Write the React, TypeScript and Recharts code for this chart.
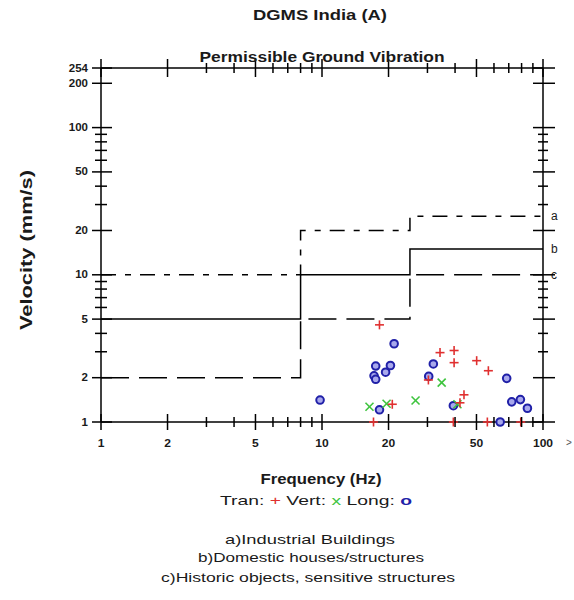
import { ScatterChart, Scatter, XAxis, YAxis } from 'recharts';

// axis ticks (log scales)
const FREQ_TICKS = [1, 2, 3, 4, 5, 6, 7, 8, 9, 10, 20, 30, 40, 50, 60, 70, 80, 90, 100];
const FREQ_LABELS = [1, 2, 5, 10, 20, 50, 100];
const VEL_TICKS = [1, 2, 3, 4, 5, 6, 7, 8, 9, 10, 20, 30, 40, 50, 60, 70, 80, 90, 100, 200, 254];
const VEL_LABELS = [1, 2, 5, 10, 20, 50, 100, 200, 254];

// DGMS limit curves: [frequency Hz, velocity mm/s]
const LIMIT_A = [[1, 10], [8, 10], [8, 20], [25, 20], [25, 25], [100, 25]];
const LIMIT_B = [[1, 5], [8, 5], [8, 10], [25, 10], [25, 15], [100, 15]];
const LIMIT_C = [[1, 2], [8, 2], [8, 5], [25, 5], [25, 10], [100, 10]];
const LIMIT_NAMES = ['a', 'b', 'c'];

// measured peaks
const TRAN = [
  [18.2, 4.57], [34.2, 2.96], [39.6, 3.06], [39.6, 2.53], [50.1, 2.61], [56.6, 2.23],
  [30.3, 1.93], [43.9, 1.53], [42.1, 1.35], [20.8, 1.32], [17.1, 1.0], [39.3, 1.0],
  [56, 1.0], [79.3, 1.0],
];
const VERT = [[16.4, 1.27], [19.6, 1.33], [26.5, 1.4], [34.8, 1.85], [41, 1.32]];
const LONG = [
  [9.8, 1.41], [17.5, 2.4], [17.2, 2.06], [17.5, 1.95], [19.4, 2.18], [20.4, 2.42],
  [21.2, 3.4], [18.2, 1.21], [31.9, 2.48], [30.4, 2.04], [39.3, 1.29], [64, 1.0],
  [68.5, 1.98], [72.2, 1.37], [79, 1.42], [85, 1.24],
];

const FONT = '"Liberation Sans", Arial, sans-serif';
const INK = '#1a1a1a';

const pts = (arr: number[][]) => arr.map(([x, y]) => ({ x, y }));

function FreqTick(props: any) {
  const { x, y, payload, side } = props;
  const v = payload.value;
  const major = FREQ_LABELS.includes(v);
  const len = side === 'top' ? (major ? 9 : 5) : (major ? 8 : 5);
  return (
    <g>
      <line x1={x} x2={x} y1={y - len} y2={y + len} stroke="#000" strokeWidth={1.5} />
      {side === 'bottom' && major && (
        <text
          transform={`translate(${x},447) scale(1.15,1)`}
          textAnchor="middle"
          fontSize={10.5}
          fontWeight="bold"
          fontFamily={FONT}
          fill={INK}
        >
          {v}
        </text>
      )}
    </g>
  );
}

function VelTick(props: any) {
  const { x, y, payload, side } = props;
  const v = payload.value;
  const major = VEL_LABELS.includes(v);
  return (
    <g>
      {side === 'left' ? (
        <line x1={x - (major ? 9 : 6)} x2={x + (major ? 11 : 6)} y1={y} y2={y} stroke="#000" strokeWidth={1.5} />
      ) : (
        <line x1={x - (major ? 10 : 5)} x2={x + (major ? 12 : 5)} y1={y} y2={y} stroke="#000" strokeWidth={1.5} />
      )}
      {side === 'left' && major && (
        <text
          transform={`translate(${x - 13},${y + 3.5}) scale(1.15,1)`}
          textAnchor="end"
          fontSize={10}
          fontWeight="bold"
          fontFamily={FONT}
          fill={INK}
        >
          {v}
        </text>
      )}
    </g>
  );
}

const Plus = (p: any) => (
  <g stroke="#e03030" strokeWidth={1.6}>
    <line x1={p.cx - 4.5} x2={p.cx + 4.5} y1={p.cy} y2={p.cy} />
    <line x1={p.cx} x2={p.cx} y1={p.cy - 4.5} y2={p.cy + 4.5} />
  </g>
);

const Cross = (p: any) => (
  <g stroke="#3ec43e" strokeWidth={1.6}>
    <line x1={p.cx - 4} x2={p.cx + 4} y1={p.cy - 4} y2={p.cy + 4} />
    <line x1={p.cx - 4} x2={p.cx + 4} y1={p.cy + 4} y2={p.cy - 4} />
  </g>
);

const Ring = (p: any) => (
  <circle cx={p.cx} cy={p.cy} r={3.8} fill="#a8a8ec" stroke="#2020a8" strokeWidth={2} />
);

const NoDot = () => <g />;

const EndLabel = (p: any) => (
  <text x={p.cx + 8} y={p.cy + 4} fontSize={12} fontFamily={FONT} fill={INK} stroke="none">
    {p.payload.name}
  </text>
);

const limitLine = (dash?: string) => ({ stroke: '#000', strokeWidth: 1.5, strokeDasharray: dash });

export default function App() {
  const limits = [LIMIT_A, LIMIT_B, LIMIT_C];
  const ends = limits.map((l, i) => ({ x: l[l.length - 1][0], y: l[l.length - 1][1], name: LIMIT_NAMES[i] }));

  return (
    <div style={{ position: 'absolute', left: 0, top: 0, width: 574, height: 600, background: '#fff' }}>
      <ScatterChart width={574} height={600} margin={{ top: 0, right: 0, bottom: 0, left: 0 }}>
        <XAxis
          dataKey="x"
          type="number"
          scale="log"
          domain={[1, 100]}
          ticks={FREQ_TICKS}
          interval={0}
          height={178}
          tickSize={0}
          tickMargin={0}
          tickLine={false}
          axisLine={{ stroke: '#000', strokeWidth: 1.5 }}
          tick={(p: any) => <FreqTick {...p} side="bottom" />}
        />
        <XAxis
          xAxisId="top"
          orientation="top"
          dataKey="x"
          type="number"
          scale="log"
          domain={[1, 100]}
          allowDataOverflow
          ticks={FREQ_TICKS}
          interval={0}
          height={68}
          tickSize={0}
          tickMargin={0}
          tickLine={false}
          axisLine={{ stroke: '#000', strokeWidth: 1.5 }}
          tick={(p: any) => <FreqTick {...p} side="top" />}
        />
        <YAxis
          dataKey="y"
          type="number"
          scale="log"
          domain={[1, 254]}
          ticks={VEL_TICKS}
          interval={0}
          width={101}
          tickSize={0}
          tickMargin={0}
          tickLine={false}
          axisLine={{ stroke: '#000', strokeWidth: 1.5 }}
          tick={(p: any) => <VelTick {...p} side="left" />}
        />
        <YAxis
          yAxisId="right"
          orientation="right"
          dataKey="y"
          type="number"
          scale="log"
          domain={[1, 254]}
          allowDataOverflow
          ticks={VEL_TICKS}
          interval={0}
          width={31}
          tickSize={0}
          tickMargin={0}
          tickLine={false}
          axisLine={{ stroke: '#000', strokeWidth: 1.5 }}
          tick={(p: any) => <VelTick {...p} side="right" />}
        />
        <Scatter data={pts(LIMIT_C)} line={limitLine('28 10')} lineType="joint" shape={NoDot} isAnimationActive={false} />
        <Scatter data={pts(LIMIT_B)} line={limitLine()} lineType="joint" shape={NoDot} isAnimationActive={false} />
        <Scatter data={pts(LIMIT_A)} line={limitLine('15 9 6 9')} lineType="joint" shape={NoDot} isAnimationActive={false} />
        <Scatter data={ends} shape={EndLabel} isAnimationActive={false} />
        <Scatter data={pts(LONG)} shape={Ring} isAnimationActive={false} />
        <Scatter data={pts(VERT)} shape={Cross} isAnimationActive={false} />
        <Scatter data={pts(TRAN)} shape={Plus} isAnimationActive={false} />
      </ScatterChart>

      <svg
        width={574}
        height={600}
        style={{ position: 'absolute', left: 0, top: 0, pointerEvents: 'none' }}
        fontFamily={FONT}
        fill={INK}
      >
        <text x={320} y={20} textAnchor="middle" fontSize={15} fontWeight="bold" textLength={134} lengthAdjust="spacingAndGlyphs">
          DGMS India (A)
        </text>
        <text x={322} y={62} textAnchor="middle" fontSize={14} fontWeight="bold" textLength={245} lengthAdjust="spacingAndGlyphs">
          Permissible Ground Vibration
        </text>
        <text
          transform="translate(32,250) rotate(-90)"
          textAnchor="middle"
          fontSize={16}
          fontWeight="bold"
          textLength={160}
          lengthAdjust="spacingAndGlyphs"
        >
          Velocity (mm/s)
        </text>
        <text x={321} y={484} textAnchor="middle" fontSize={14} fontWeight="bold" textLength={121} lengthAdjust="spacingAndGlyphs">
          Frequency (Hz)
        </text>
        <text x={316} y={505} textAnchor="middle" fontSize={13.5} textLength={192} lengthAdjust="spacingAndGlyphs">
          <tspan>Tran: </tspan>
          <tspan fill="#e03030">+</tspan>
          <tspan>  Vert: </tspan>
          <tspan fill="#3ec43e">x</tspan>
          <tspan>  Long: </tspan>
          <tspan fill="#2020a8" fontWeight="bold">o</tspan>
        </text>
        <text x={310} y={544} textAnchor="middle" fontSize={13.5} textLength={170} lengthAdjust="spacingAndGlyphs">
          a)Industrial Buildings
        </text>
        <text x={311} y={562} textAnchor="middle" fontSize={13.5} textLength={226} lengthAdjust="spacingAndGlyphs">
          b)Domestic houses/structures
        </text>
        <text x={308} y={582} textAnchor="middle" fontSize={13.5} textLength={294} lengthAdjust="spacingAndGlyphs">
          c)Historic objects, sensitive structures
        </text>
        <text x={566} y={446} fontSize={10} fill="#555">
          &gt;
        </text>
      </svg>
    </div>
  );
}
